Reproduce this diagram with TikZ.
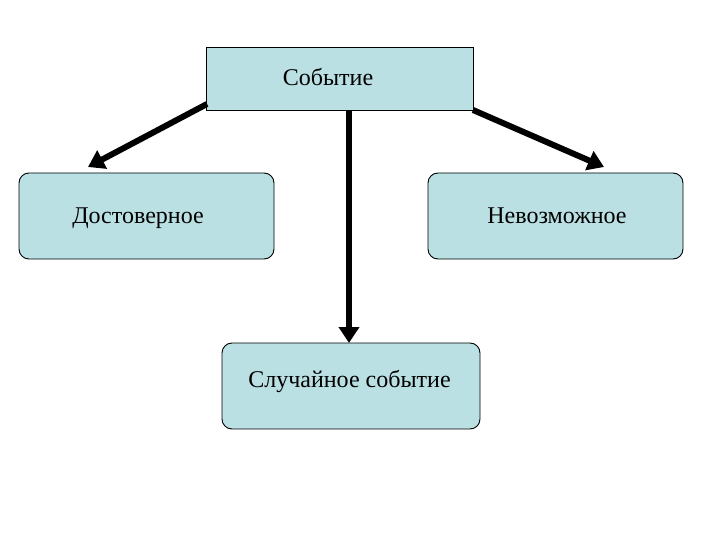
\documentclass[tikz,border=0pt]{standalone}
\usepackage{fontspec}
\setmainfont{Liberation Serif}
\newfontfamily\tnr{Liberation Serif}
\usetikzlibrary{arrows.meta}
\definecolor{boxfill}{HTML}{BBE0E3}
\begin{document}
\begin{tikzpicture}[x=1pt,y=-1pt,
  box/.style={draw=black,line width=0.9pt,fill=boxfill},
  rbox/.style={box,rounded corners=10pt},
  lbl/.style={font=\tnr\fontsize{24}{28}\selectfont,inner sep=0pt,anchor=base},
  conn/.style={line width=6pt,-{Triangle[length=16pt,width=20pt]}}]
\useasboundingbox (0,0) rectangle (720,540);
\fill[white] (0,0) rectangle (720,540);
\draw[box] (206,47) rectangle (473,110);
\node[lbl] (top) at (328,86) {Событие};
\draw[rbox] (19,173) rectangle (274,259);
\node[lbl] (left) at (138,223) {Достоверное};
\draw[rbox] (428,173) rectangle (683,259);
\node[lbl] (right) at (557,223) {Невозможное};
\draw[rbox] (222,343) rectangle (480,429);
\node[lbl] (bottom) at (349.5,387) {Случайное событие};
\coordinate (tl) at (207,104);
\coordinate (tr) at (473,110);
\coordinate (tc) at (349,110);
\coordinate (al) at (88,167);
\coordinate (ar) at (604,167);
\coordinate (ab) at (349,343);
\draw[conn] (tl) -- (al);
\draw[conn] (tr) -- (ar);
\draw[conn] (tc) -- (ab);
\end{tikzpicture}
\end{document}
